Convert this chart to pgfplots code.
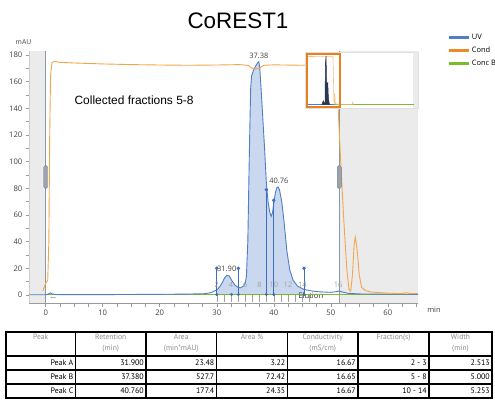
\documentclass[border=0pt]{standalone}
\usepackage{fontspec}
\setmainfont{Liberation Sans}
\newfontfamily\uifont{Open Sans}
\newfontfamily\tabfont{PT Sans}
\usepackage{pgfplots}
\usepackage{pgfplotstable}
\pgfplotsset{compat=1.18}
\definecolor{uvblue}{HTML}{4F7EC6}
\definecolor{uvfill}{HTML}{C9D8EF}
\definecolor{condor}{HTML}{F3A54A}
\definecolor{legor}{HTML}{EE8A25}
\definecolor{concg}{HTML}{7DBA2F}
\definecolor{graybg}{HTML}{EBEBEB}
\definecolor{axgray}{HTML}{9A9A9A}
\definecolor{tickt}{HTML}{404040}
\definecolor{fracg}{HTML}{A0A0A0}
\definecolor{pkblue}{HTML}{3C6DBE}
\definecolor{rector}{HTML}{E9801F}
\definecolor{miniuv}{HTML}{2C3850}
\definecolor{vline}{HTML}{8A98AA}
\definecolor{handle}{HTML}{9AA3AE}
\definecolor{hdrgray}{HTML}{8C8C8C}

\pgfplotstableread{
x y
-2.88 0.2
0 0.2
0.4 0.6
0.8 1.6
1.2 0.7
2 0.3
10 0.3
20 0.5
25 0.7
28 1.0
29 1.8
30 3.8
30.5 6
31.0 9.5
31.4 13
31.8 14.8
32.2 14.2
32.7 10.5
33.2 7.3
33.8 5.6
34.2 5.4
34.7 6.8
35.0 9
35.2 14
35.45 40
35.65 90
35.8 125
35.95 155
36.1 164
36.4 168
36.8 171.5
37.15 174
37.38 175
37.55 170
37.8 153
38.1 131
38.4 109
38.7 84
39.0 70
39.3 62
39.55 59
39.8 62
40.0 69
40.3 77
40.55 80.5
40.76 81
41.0 79
41.4 70
41.8 55
42.3 33
42.8 19
43.4 11
44.2 6.5
45.3 4.2
46.5 3.1
48 2.4
50 2.0
51 2.5
51.5 3.0
52 2.3
53 1.3
55 0.8
60 0.6
65.3 0.5
}\uvdata

\pgfplotstableread{
x y
-0.5 3
0.0 9
0.35 11
0.55 40
0.7 120
0.85 165
1.1 174.5
1.6 175.2
2.5 174.5
5 174
10 173.3
15 172.8
20 172.5
25 172.3
30 172.5
34 172.8
35.5 172.2
36.2 170
36.8 169.6
37.5 170.3
38.3 172.3
40 172.6
45 172.3
48 172.8
50.8 172.4
51.1 160
51.4 130
51.8 95
52.3 55
52.8 20
53.2 4
53.5 3
53.8 15
54.1 38
54.3 43.5
54.6 35
55.0 15
55.4 6
56 3.5
57 2.3
59 1.6
61 1.2
62.5 1.1
63.2 1.7
64 1.1
65.3 1.0
}\conddata

\begin{document}
\begin{tikzpicture}
\begin{axis}[
  at={(29.3bp,-303bp)}, anchor=south west,
  scale only axis, width=388.7bp, height=252bp,
  xmin=-2.88, xmax=65.3, ymin=-6, ymax=183,
  axis x line*=bottom, axis y line*=left,
  axis line style={-, draw=axgray, line width=0.7bp},
  xtick={0,10,...,60}, minor xtick={2.5,5,...,65},
  ytick={0,20,...,180}, minor ytick={10,30,...,170},
  tick align=outside, major tick length=3.5bp, minor tick length=3.5bp,
  tick style={draw=axgray, line width=0.5bp},
  every tick label/.append style={font=\uifont\fontsize{7.7}{9}\selectfont, text=tickt},
  /pgf/number format/assume math mode=true,
  legend style={at={(1.077,1.074)}, anchor=north west, draw=none, fill=none,
    font=\uifont\fontsize{7.5}{9}\selectfont, row sep=3bp, inner sep=0pt,
    nodes={inner sep=1.5bp}},
  legend cell align=left,
  legend image code/.code={\draw[#1] (0bp,0bp) -- (20bp,0bp);},
]
\addlegendimage{uvblue, line width=2.2bp}\addlegendentry{UV}
\addlegendimage{legor, line width=2.2bp}\addlegendentry{Cond}
\addlegendimage{concg, line width=2.2bp}\addlegendentry{Conc B}

% grey regions
\addplot[forget plot, draw=none, fill=graybg] coordinates {(-2.88,-6)(0,-6)(0,183)(-2.88,183)} --cycle;
\addplot[forget plot, draw=none, fill=graybg] coordinates {(51.5,-6)(65.3,-6)(65.3,183)(51.5,183)} --cycle;
\addplot[forget plot, vline, line width=0.8bp] coordinates {(0,-6)(0,183)};
\addplot[forget plot, vline, line width=0.8bp] coordinates {(51.5,-6)(51.5,183)};

% UV peak fill
\addplot[forget plot, draw=none, fill=uvfill, restrict x to domain=30:45.3] table {\uvdata} \closedcycle;

% fraction ticks
\addplot[forget plot, only marks, mark=|, mark size=3.6bp, fracg, mark options={line width=0.5bp}] coordinates {
(30,-2.6)(31.25,-2.6)(32.5,-2.6)(33.75,-2.6)(35,-2.6)(36.25,-2.6)(37.5,-2.6)(38.75,-2.6)
(40,-2.6)(41.25,-2.6)(42.5,-2.6)(43.75,-2.6)(45,-2.6)(46.25,-2.6)(51.5,-2.6)};

\node[font=\uifont\fontsize{7.7}{9}\selectfont, text=black!80] at (axis cs:46.5,-0.8) {Elution};

% Conc B and UV and Cond
\addplot[forget plot, concg, line width=1bp] coordinates {(0,0.35)(65.3,0.35)};
\addplot[forget plot, uvblue, line width=0.9bp] table {\uvdata};
\addplot[forget plot, condor, line width=0.9bp] table {\conddata};

% peak markers
\addplot[forget plot, ycomb, pkblue, line width=0.8bp, mark=*, mark size=1.3bp] coordinates {(30,20)(33.8,20)(38.7,79)(40,71)(45.3,20)};
\addplot[forget plot, only marks, pkblue, mark=*, mark size=1.3bp] coordinates {(30,0.4)(32.6,0.4)(33.8,0.4)(38.7,0.4)(40,0.4)(45.3,0.4)};

% handles
\addplot[forget plot, draw=handle!80!black, fill=handle, rounded corners=1.5bp, line width=0.4bp] coordinates {(-0.35,80)(0.35,80)(0.35,97)(-0.35,97)} --cycle;
\addplot[forget plot, draw=handle!80!black, fill=handle, rounded corners=1.5bp, line width=0.4bp] coordinates {(51.15,80)(51.85,80)(51.85,97)(51.15,97)} --cycle;

% labels
\node[font=\uifont\fontsize{7.5}{9}\selectfont, text=tickt] at (axis cs:37.38,179.5) {37.38};
\node[font=\uifont\fontsize{7.5}{9}\selectfont, text=tickt] at (axis cs:40.9,85.5) {40.76};
\node[font=\uifont\fontsize{7.5}{9}\selectfont, text=tickt] at (axis cs:31.75,19.5) {31.90};
\foreach \xx/\ll in {30/2,32.5/4,35/6,37.5/8,40/10,42.5/12,45/14,51.3/16}{
  \edef\tmp{\noexpand\node[font=\noexpand\uifont\noexpand\fontsize{7.5}{9}\noexpand\selectfont, text=fracg] at (axis cs:\xx,8) {\ll};}\tmp
}
\node[font=\uifont\fontsize{7}{8}\selectfont, text=black] at (axis cs:1.3,-2.3) {...};
\node[font=\fontsize{12}{14}\selectfont] at (axis cs:15.5,146.3) {Collected fractions 5-8};
\end{axis}

% inset
\begin{axis}[
  at={(305bp,-108bp)}, anchor=south west,
  scale only axis, width=113bp, height=55.7bp,
  xmin=-4, xmax=218, ymin=-12, ymax=188, ticks=none,
  axis background/.style={fill=white},
  axis line style={draw=black!12, line width=0.5bp},
]
\addplot[draw=none, fill=graybg] coordinates {(208,-12)(218,-12)(218,188)(208,188)} --cycle;
\addplot[concg, line width=0.8bp] coordinates {(52,0)(210,0)};
\addplot[uvblue, line width=0.8bp] coordinates {(0,0)(52,0)};
\addplot[condor!70, line width=0.6bp] coordinates {(0,3)(1,173)(51,172)(52.5,40)(53.3,3)(54.3,40)(55.4,4)(60,1)(89,1)(90,9)(91,1)};
\addplot[miniuv, fill=miniuv, line width=0.5bp] coordinates {(29,0)(31.9,14)(33.5,4)(35.3,10)(36.2,150)(37.38,175)(38.3,90)(39.5,55)(40.76,81)(41.8,30)(43.5,5)(45,0)} --cycle;
\addplot[rector, line width=1.8bp] coordinates {(0.5,-7.3)(64.6,-7.3)(64.6,180.8)(0.5,180.8)} --cycle;
\end{axis}

\begin{scope}[x=1bp, y=-1bp]
\node[font=\fontsize{22.5}{26}\selectfont] at (238,20.7) {CoREST1};
\node[font=\uifont\fontsize{6.8}{8}\selectfont, text=tickt] at (23.5,42.5) {mAU};
\node[font=\uifont\fontsize{7.5}{8}\selectfont, text=tickt] at (434,309.5) {min};
% table
\draw[line width=1.4bp] (6,332) rectangle (492,398);
\foreach \yy in {356,370,384} \draw[line width=1.1bp] (6,\yy) -- (492,\yy);
\foreach \xx in {75.5,146,216.5,287.5,358,429} \draw[line width=1.1bp] (\xx,332) -- (\xx,398);
\begin{scope}[every node/.style={font=\tabfont\fontsize{7.6}{10.5}\selectfont, text=hdrgray, align=center, anchor=north, inner sep=0pt}]
\node at (40.75,334.2) {Peak};
\node at (110.75,334.2) {Retention\\(min)};
\node at (181.25,334.2) {Area\\(min*mAU)};
\node at (252,334.2) {Area \%};
\node at (322.75,334.2) {Conductivity\\(mS/cm)};
\node at (393.5,334.2) {Fraction(s)};
\node at (460.5,334.2) {Width\\(min)};
\end{scope}
\begin{scope}[every node/.style={font=\tabfont\fontsize{8}{9}\selectfont, text=black, anchor=east, inner sep=0pt}]
\foreach \yy/\a/\b/\c/\d/\e/\f/\g in {363/Peak A/31.900/23.48/3.22/16.67/2 - 3/2.513, 377/Peak B/37.380/527.7/72.42/16.65/5 - 8/5.000, 391/Peak C/40.760/177.4/24.35/16.67/10 - 14/5.253}{
  \node at (73.5,\yy) {\a};
  \node at (144,\yy) {\b};
  \node at (214.5,\yy) {\c};
  \node at (285.5,\yy) {\d};
  \node at (356,\yy) {\e};
  \node at (427,\yy) {\f};
  \node at (490,\yy) {\g};
}
\end{scope}
\end{scope}
\pgfresetboundingbox
\path[use as bounding box] (0,0) rectangle (495bp,-400bp);
\end{tikzpicture}
\end{document}
